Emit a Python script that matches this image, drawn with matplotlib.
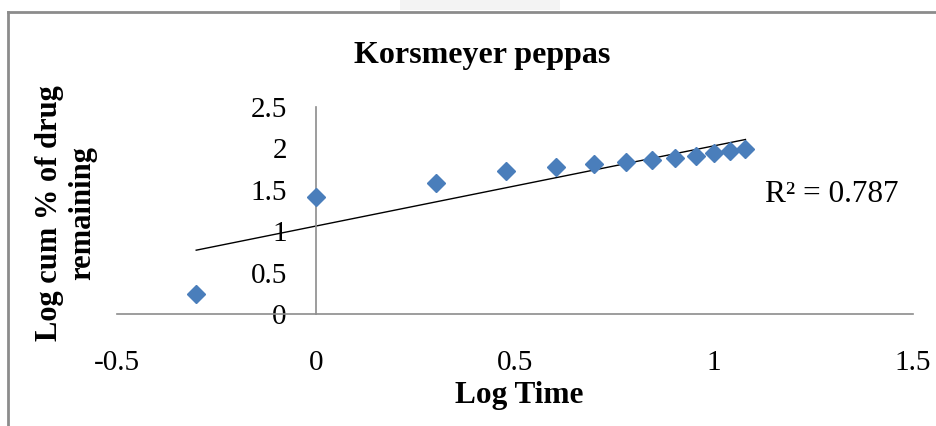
import numpy as np
import matplotlib
matplotlib.use("Agg")
import matplotlib.pyplot as plt
from matplotlib.patches import Rectangle

plt.rcParams['font.family'] = ['Liberation Serif', 'DejaVu Serif']

# Release data: log of time (h) vs log cumulative % drug remaining
log_time = [-0.301, 0.0, 0.301, 0.477, 0.602, 0.699, 0.778, 0.845, 0.903, 0.954, 1.0, 1.041, 1.079]
log_remaining = [0.24, 1.41, 1.58, 1.73, 1.775, 1.81, 1.83, 1.86, 1.88, 1.91, 1.94, 1.97, 1.99]
x_ticks = [-0.5, 0, 0.5, 1, 1.5]
y_ticks = [0, 0.5, 1, 1.5, 2, 2.5]
r2_text = "R\u00b2 = 0.787"

fig = plt.figure(figsize=(9.36, 4.26), dpi=100)
fig.patch.set_facecolor('white')

# chart area frame (only top and left edges are in view)
fig.add_artist(plt.Line2D([8/936, 8/936], [0, 1 - 12/426], transform=fig.transFigure,
                          color='#8c8c8c', lw=2))
fig.add_artist(plt.Line2D([8/936, 1], [1 - 12/426, 1 - 12/426], transform=fig.transFigure,
                          color='#8c8c8c', lw=2))
fig.add_artist(Rectangle((400/936, 1 - 10/426), 160/936, 10/426, transform=fig.transFigure,
                         facecolor='#f3f3f3', edgecolor='none'))

ax = fig.add_axes([117/936, (426 - 314)/426, 796/936, 207/426])

x = np.array(log_time)
y = np.array(log_remaining)
ax.plot(x, y, linestyle='none', marker='D', markersize=9.5,
        color='#4a7ebb', zorder=3)

# linear trendline over the data range
slope, intercept = np.polyfit(x, y, 1)
xf = np.array([x.min(), x.max()])
ax.plot(xf, slope * xf + intercept, color='black', lw=1.0, zorder=2)

ax.set_xlim(-0.5, 1.5)
ax.set_ylim(0, 2.5)
ax.set_xticks(x_ticks)
ax.set_xticklabels(['-0.5', '0', '0.5', '1', '1.5'])
ax.set_yticks(y_ticks)
ax.set_yticklabels(['0', '0.5', '1', '1.5', '2', '2.5'])

ax.spines['left'].set_position(('data', 0))
ax.spines['top'].set_visible(False)
ax.spines['right'].set_visible(False)
for s in ('left', 'bottom'):
    ax.spines[s].set_color('#8c8c8c')
    ax.spines[s].set_linewidth(1.2)
ax.tick_params(axis='both', length=0, labelsize=21, colors='black')
ax.tick_params(axis='x', pad=26)
ax.tick_params(axis='y', pad=21)

ax.text(1.128, 1.44, r2_text, fontsize=22.5, va='center', ha='left')

fig.text(482/936, 1 - 55/426, "Korsmeyer peppas", fontsize=23, fontweight='bold',
         ha='center', va='center')
fig.text(519/936, 1 - 395/426, "Log Time", fontsize=22.5, fontweight='bold',
         ha='center', va='center')
fig.text(66/936, 1 - 213/426, "Log cum % of drug\nremaining", fontsize=22,
         fontweight='bold', ha='center', va='center', rotation=90,
         multialignment='center', linespacing=1.15)

fig.savefig('out.png', dpi=100, facecolor='white')
